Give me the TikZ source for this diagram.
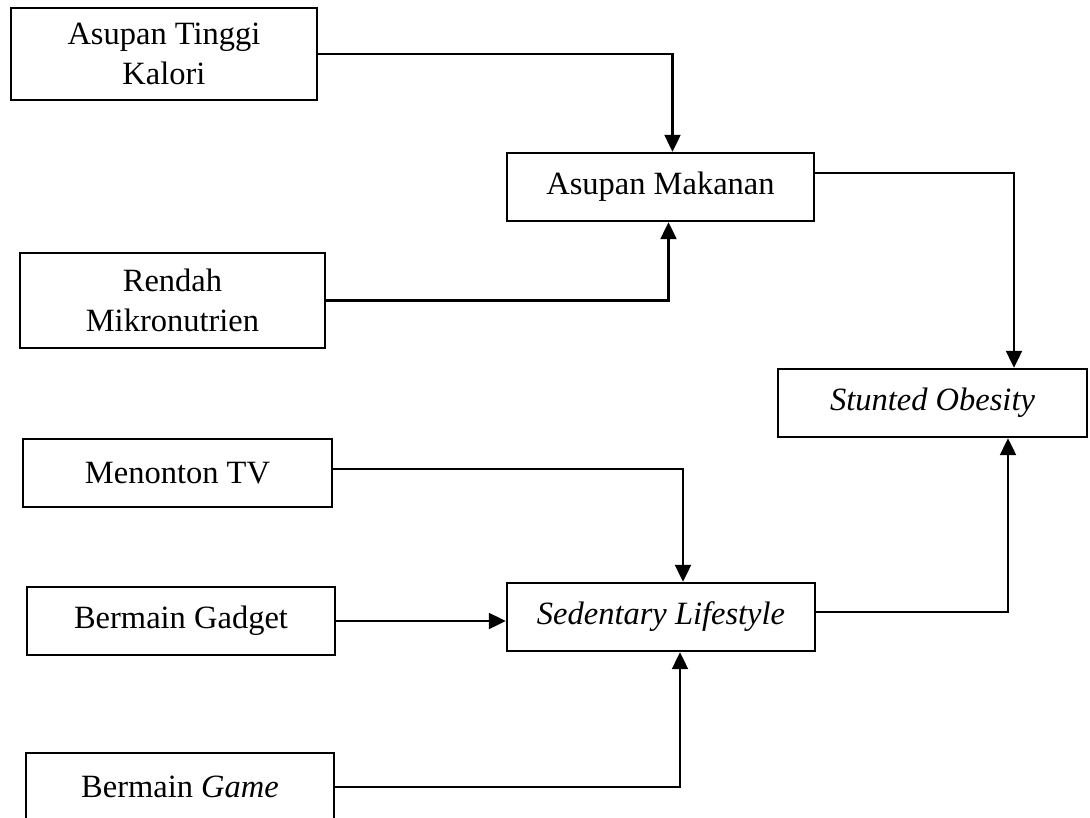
\documentclass[tikz,border=0pt]{standalone}
\usepackage{fontspec}
\setmainfont{Liberation Serif}
\usetikzlibrary{arrows.meta}
\begin{document}
\begin{tikzpicture}[x=1pt,y=-1pt,
  box/.style={draw, line width=2.4pt, align=center, inner sep=0pt,
    font=\fontsize{32.5}{40}\selectfont},
  conn/.style={line width=2.2pt},
  arr/.style={conn, -{Triangle[width=16pt,length=17pt]}}]
\useasboundingbox (0,0) rectangle (1090,818);
\clip (0,0) rectangle (1090,818);
% nodes
\node[box, minimum width=306pt, minimum height=92pt] (n1) at (164,54) {Asupan Tinggi\\Kalori};
\node[box, minimum width=307pt, minimum height=68pt] (n2) at (660.5,187) {Asupan Makanan};
\node[box, minimum width=305pt, minimum height=95pt] (n3) at (172.5,300.5) {Rendah\\Mikronutrien};
\node[box, minimum width=309pt, minimum height=68pt] (n4) at (932.5,403) {\textit{Stunted Obesity}};
\node[box, minimum width=309pt, minimum height=68pt] (n5) at (177.5,473) {Menonton TV};
\node[box, minimum width=308pt, minimum height=68pt] (n6) at (181,621) {Bermain Gadget};
\node[box, minimum width=308pt, minimum height=68pt] (n7) at (661,617) {\textit{Sedentary Lifestyle}};
\node[box, minimum width=308pt, minimum height=68pt] (n8) at (180,787) {Bermain \textit{Game}};
% connector end points
\coordinate (a2) at ([xshift=12pt]n2.north);
\coordinate (b2) at ([xshift=8pt]n2.south);
\coordinate (c2) at ([yshift=14pt]n2.east);
\coordinate (d4) at ([xshift=81.5pt]n4.north);
\coordinate (e7) at ([yshift=5pt]n7.east);
\coordinate (f4) at ([xshift=75.5pt]n4.south);
\coordinate (g5) at ([yshift=4pt]n5.east);
\coordinate (h7) at ([xshift=22pt]n7.north);
\coordinate (i7) at ([xshift=19pt]n7.south);
% connectors
\draw[arr] (n1.east) -| (a2);
\draw[arr] (n3.east) -| (b2);
\draw[arr] (c2) -| (d4);
\draw[arr] (e7) -| (f4);
\draw[arr] (g5) -| (h7);
\draw[arr] (n6.east) -- (n6.east -| n7.west);
\draw[arr] (n8.east) -| (i7);
\end{tikzpicture}
\end{document}
